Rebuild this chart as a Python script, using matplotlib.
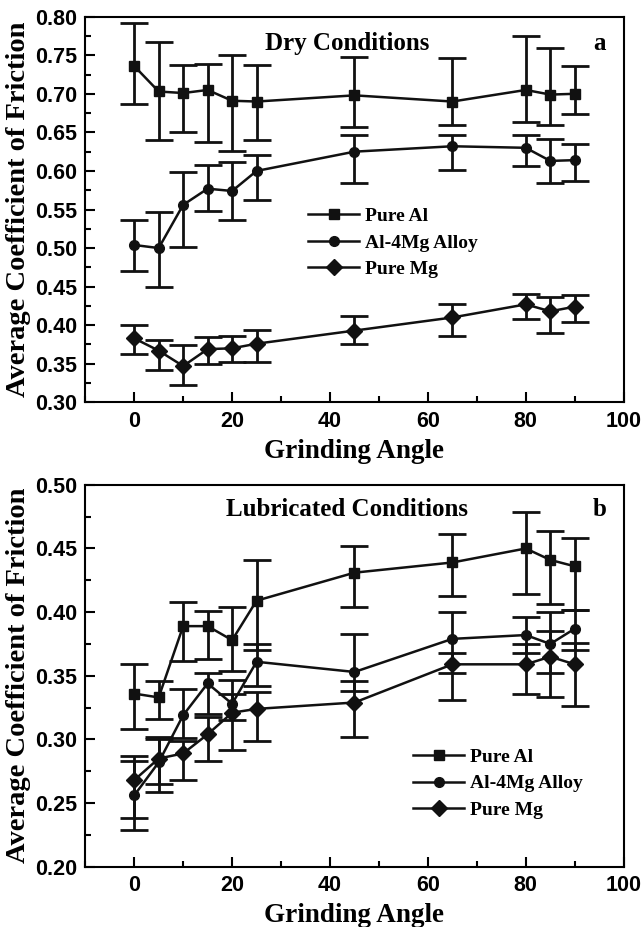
import matplotlib
matplotlib.use("Agg")
import matplotlib.pyplot as plt
from matplotlib.ticker import MultipleLocator, FormatStrFormatter

angles = [0, 5, 10, 15, 20, 25, 45, 65, 80, 85, 90]
noms = ["Pure Al", "Al-4Mg Alloy", "Pure Mg"]
marqueurs = ["s", "o", "D"]

# (a) conditions seches : moyenne, bas et haut des barres d'erreur
sec_al = [0.736, 0.703, 0.701, 0.705, 0.691, 0.690, 0.698, 0.690, 0.705, 0.699, 0.700]
sec_al_bas = [0.687, 0.640, 0.650, 0.638, 0.626, 0.640, 0.657, 0.659, 0.664, 0.660, 0.674]
sec_al_haut = [0.792, 0.767, 0.737, 0.739, 0.750, 0.737, 0.748, 0.747, 0.775, 0.760, 0.736]

sec_almg = [0.504, 0.500, 0.556, 0.577, 0.574, 0.600, 0.625, 0.632, 0.630, 0.613, 0.614]
sec_almg_bas = [0.470, 0.450, 0.501, 0.548, 0.536, 0.562, 0.585, 0.601, 0.607, 0.584, 0.587]
sec_almg_haut = [0.536, 0.547, 0.598, 0.608, 0.611, 0.621, 0.647, 0.647, 0.647, 0.641, 0.635]

sec_mg = [0.383, 0.367, 0.347, 0.369, 0.370, 0.376, 0.393, 0.410, 0.427, 0.418, 0.424]
sec_mg_bas = [0.362, 0.342, 0.323, 0.350, 0.352, 0.352, 0.376, 0.386, 0.408, 0.390, 0.404]
sec_mg_haut = [0.400, 0.381, 0.374, 0.385, 0.386, 0.394, 0.412, 0.427, 0.441, 0.437, 0.439]

# (b) conditions lubrifiees
lub_al = [0.336, 0.333, 0.389, 0.389, 0.378, 0.409, 0.431, 0.439, 0.450, 0.441, 0.436]
lub_al_bas = [0.308, 0.316, 0.362, 0.363, 0.354, 0.370, 0.404, 0.413, 0.414, 0.406, 0.402]
lub_al_haut = [0.359, 0.346, 0.408, 0.401, 0.404, 0.441, 0.452, 0.461, 0.479, 0.464, 0.458]

lub_almg = [0.256, 0.282, 0.319, 0.344, 0.328, 0.361, 0.353, 0.379, 0.382, 0.375, 0.387]
lub_almg_bas = [0.229, 0.259, 0.301, 0.320, 0.315, 0.342, 0.338, 0.352, 0.368, 0.352, 0.370]
lub_almg_haut = [0.283, 0.300, 0.340, 0.352, 0.347, 0.375, 0.383, 0.400, 0.396, 0.400, 0.402]

lub_mg = [0.268, 0.285, 0.289, 0.304, 0.321, 0.324, 0.329, 0.359, 0.359, 0.365, 0.359]
lub_mg_bas = [0.238, 0.265, 0.268, 0.283, 0.292, 0.299, 0.302, 0.331, 0.336, 0.333, 0.326]
lub_mg_haut = [0.287, 0.302, 0.299, 0.318, 0.336, 0.337, 0.346, 0.368, 0.375, 0.385, 0.376]

fig = plt.figure(figsize=(6.41, 9.27), dpi=100)
ax_a = fig.add_axes([0.133, 0.566, 0.840, 0.416])
ax_b = fig.add_axes([0.133, 0.065, 0.840, 0.412])

police_serif = "Liberation Serif"
police_sans = "Liberation Sans"


def tracer(ax, series, ylim, titre, lettre, titre_pos, leg_pos):
    lignes = []
    for (moy, bas, haut), nom, m in zip(series, noms, marqueurs):
        err = [[v - b for v, b in zip(moy, bas)], [h - v for v, h in zip(moy, haut)]]
        ax.errorbar(angles, moy, yerr=err, fmt="none", ecolor="#111111",
                    elinewidth=2.0, capsize=10, capthick=2.0)
        ms = 8 if m == "D" else 7
        l, = ax.plot(angles, moy, "-", marker=m, color="#111111", lw=1.8,
                     markersize=ms, label=nom)
        lignes.append(l)
    ax.set_xlim(-10, 100)
    ax.set_ylim(*ylim)
    ax.xaxis.set_major_locator(MultipleLocator(20))
    ax.xaxis.set_minor_locator(MultipleLocator(10))
    ax.yaxis.set_major_locator(MultipleLocator(0.05))
    ax.yaxis.set_minor_locator(MultipleLocator(0.025))
    ax.yaxis.set_major_formatter(FormatStrFormatter("%.2f"))
    ax.tick_params(which="both", direction="in", top=False, right=False, width=1.5)
    ax.tick_params(which="major", length=7, pad=6)
    ax.tick_params(which="minor", length=4)
    for lab in ax.get_xticklabels() + ax.get_yticklabels():
        lab.set_fontfamily(police_sans)
        lab.set_fontweight("bold")
        lab.set_fontsize(15.5)
    for s in ax.spines.values():
        s.set_linewidth(1.5)
    ax.set_xlabel("Grinding Angle", fontfamily=police_serif, fontweight="bold",
                  fontsize=19.5, labelpad=5)
    ax.set_ylabel("Average Coefficient of Friction", fontfamily=police_serif,
                  fontweight="bold", fontsize=20.5, labelpad=3)
    ax.text(titre_pos[0], titre_pos[1], titre, transform=ax.transAxes,
            fontfamily=police_serif, fontweight="bold", fontsize=18,
            ha="center", va="center")
    ax.text(0.955, titre_pos[1], lettre, transform=ax.transAxes,
            fontfamily=police_serif, fontweight="bold", fontsize=18,
            ha="center", va="center")
    ax.legend(handles=lignes, loc="upper left", bbox_to_anchor=leg_pos,
              frameon=False, handlelength=2.6, handletextpad=0.3,
              labelspacing=0.45, borderaxespad=0,
              prop={"family": police_serif, "weight": "bold", "size": 14})


tracer(ax_a,
       [(sec_al, sec_al_bas, sec_al_haut),
        (sec_almg, sec_almg_bas, sec_almg_haut),
        (sec_mg, sec_mg_bas, sec_mg_haut)],
       (0.30, 0.80), "Dry Conditions", "a", (0.487, 0.93), (0.40, 0.525))

tracer(ax_b,
       [(lub_al, lub_al_bas, lub_al_haut),
        (lub_almg, lub_almg_bas, lub_almg_haut),
        (lub_mg, lub_mg_bas, lub_mg_haut)],
       (0.20, 0.50), "Lubricated Conditions", "b", (0.487, 0.935), (0.595, 0.33))

fig.savefig("out.png", dpi=100)
